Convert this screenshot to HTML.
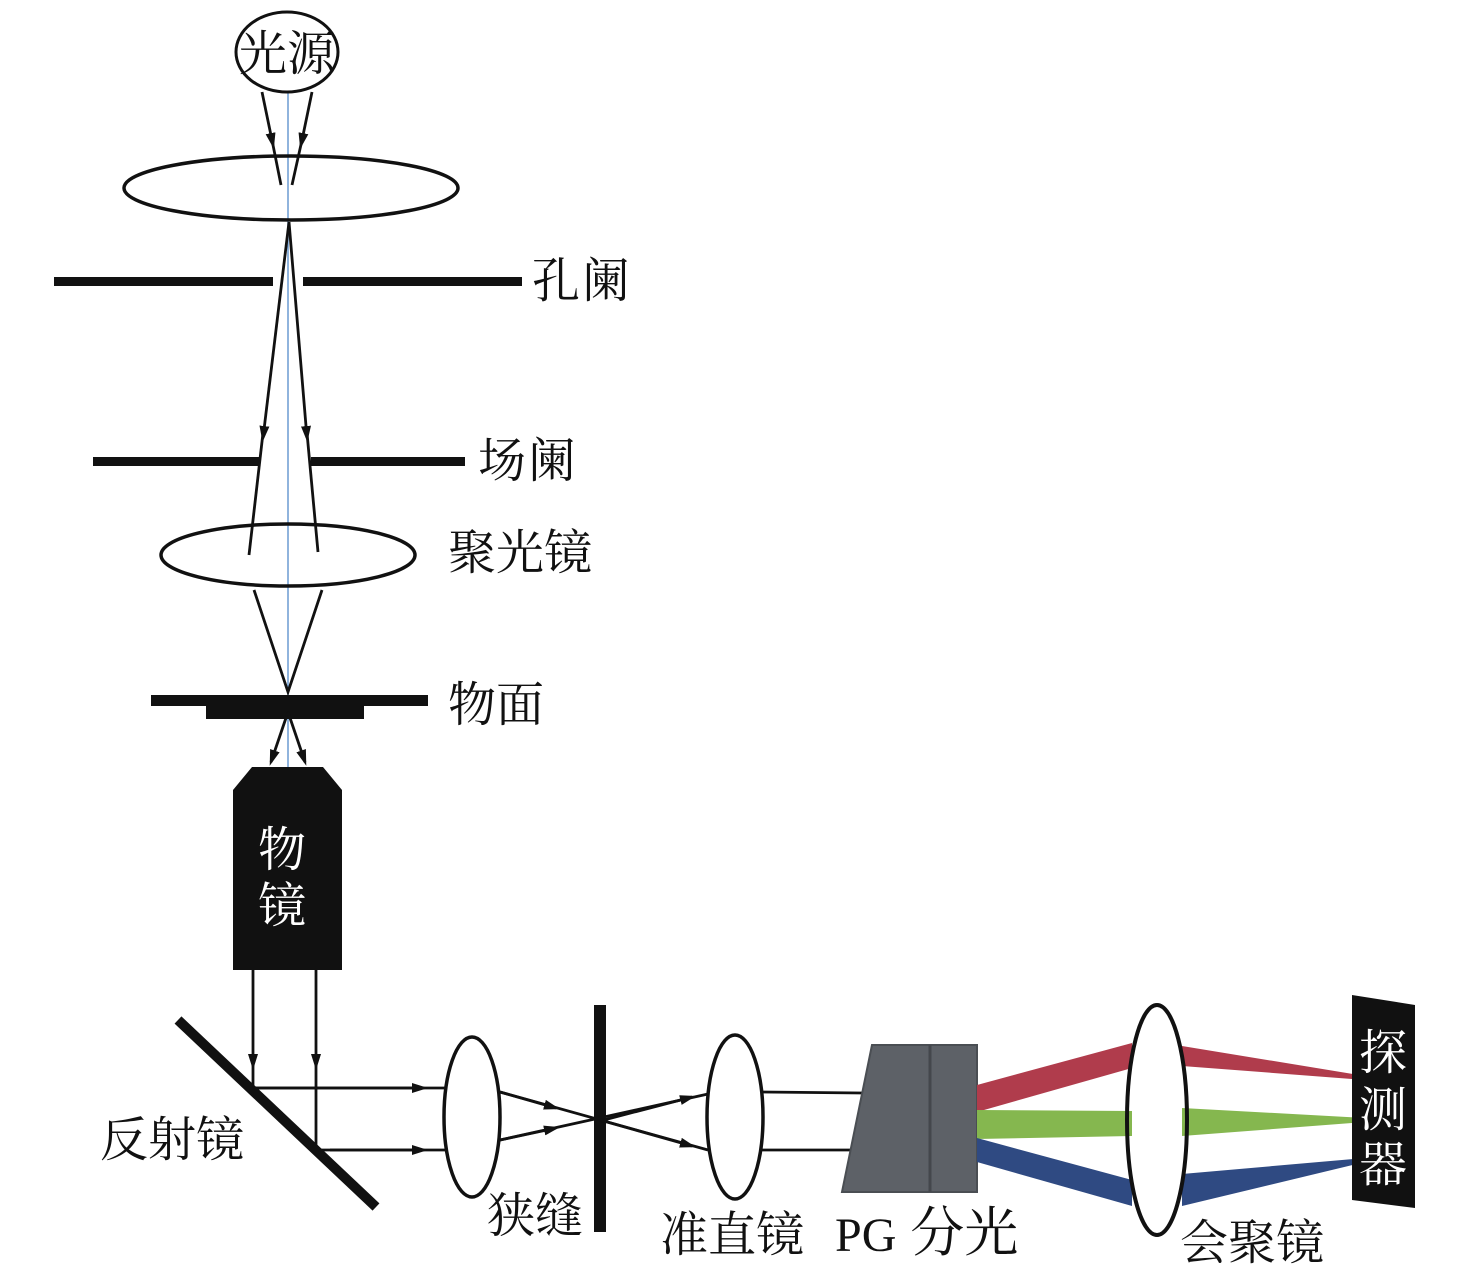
<!DOCTYPE html>
<html><head><meta charset="utf-8"><style>
html,body{margin:0;padding:0;background:#fff;}
svg{display:block;}
text{font-family:"Liberation Serif","Noto Serif CJK SC",serif;font-size:48px;fill:#111;}
</style></head><body>
<svg width="1476" height="1276" viewBox="0 0 1476 1276" xmlns="http://www.w3.org/2000/svg">
<defs>
<marker id="a" markerWidth="16" markerHeight="12" refX="12" refY="6" orient="auto" markerUnits="userSpaceOnUse" viewBox="0 0 16 12"><path d="M0,1 L16,6 L0,11 z" fill="#111"/></marker>
</defs>
<line x1="288" y1="92" x2="288" y2="770" stroke="#6b9bd2" stroke-width="1.5"/>
<ellipse cx="287" cy="52" rx="51" ry="40" fill="#fff" stroke="#111" stroke-width="3"/>
<text x="287" y="70" text-anchor="middle" font-size="46">光源</text>
<g stroke="#111" stroke-width="2.8" fill="none">
<path d="M262,92 L273,145" marker-end="url(#a)"/><path d="M272,140 L281,185"/>
<path d="M312,92 L301,145" marker-end="url(#a)"/><path d="M302,140 L292,185"/>
</g>
<ellipse cx="291" cy="188" rx="167" ry="32" fill="none" stroke="#111" stroke-width="3.5"/>
<g stroke="#111" stroke-width="2.8" fill="none">
<path d="M289,222 L263,438" marker-end="url(#a)"/><path d="M263,433 L249,555"/>
<path d="M289,222 L307,438" marker-end="url(#a)"/><path d="M307,433 L318,552"/>
</g>
<rect x="54" y="277" width="219" height="9" fill="#111"/>
<rect x="303" y="277" width="219" height="9" fill="#111"/>
<text x="532" y="297" style="letter-spacing:2px">孔阑</text>
<rect x="93" y="457" width="167" height="9" fill="#111"/>
<rect x="311" y="457" width="154" height="9" fill="#111"/>
<text x="478" y="477" style="letter-spacing:2px">场阑</text>
<ellipse cx="288" cy="555" rx="127" ry="31" fill="none" stroke="#111" stroke-width="3.5"/>
<text x="448" y="569">聚光镜</text>
<g stroke="#111" stroke-width="2.8" fill="none">
<path d="M254,590 L288,692 L322,590"/>
</g>
<rect x="151" y="695" width="277" height="11" fill="#111"/>
<rect x="206" y="704" width="158" height="15" fill="#111"/>
<text x="448" y="721">物面</text>
<g stroke="#111" stroke-width="2.8" fill="none">
<path d="M288,712 L271,762" marker-end="url(#a)"/>
<path d="M288,712 L305,762" marker-end="url(#a)"/>
</g>
<path d="M252,767 L323,767 L342,790 L342,970 L233,970 L233,790 Z" fill="#111"/>
<text x="282" y="866" text-anchor="middle" style="fill:#fff">物</text>
<text x="282" y="922" text-anchor="middle" style="fill:#fff">镜</text>
<g stroke="#111" stroke-width="2.8" fill="none">
<path d="M253,970 L253,1066" marker-end="url(#a)"/><path d="M253,1060 L253,1088"/>
<path d="M316,970 L316,1066" marker-end="url(#a)"/><path d="M316,1060 L316,1150"/>
<path d="M253,1088 L445,1088"/><path d="M253,1088 L424,1088" marker-end="url(#a)"/>
<path d="M316,1150 L445,1150"/><path d="M330,1150 L424,1150" marker-end="url(#a)"/>
</g>
<line x1="178" y1="1020" x2="376" y2="1207" stroke="#111" stroke-width="10"/>
<text x="100" y="1156">反射镜</text>
<ellipse cx="472" cy="1117" rx="28" ry="80" fill="#fff" stroke="#111" stroke-width="3.5"/>
<rect x="594" y="1005" width="12" height="227" fill="#111"/>
<g stroke="#111" stroke-width="2.8" fill="none">
<path d="M500,1092 L708,1150"/>
<path d="M500,1140 L708,1094"/>
<path d="M500,1092 L556,1108" marker-end="url(#a)"/>
<path d="M500,1140 L556,1128" marker-end="url(#a)"/>
<path d="M600,1121 L692,1097" marker-end="url(#a)"/>
<path d="M600,1120 L692,1146" marker-end="url(#a)"/>
<path d="M762,1092 L862,1093"/><path d="M762,1150 L852,1150"/>
</g>
<text x="487" y="1232">狭缝</text>
<ellipse cx="735" cy="1117" rx="28" ry="82" fill="#fff" stroke="#111" stroke-width="3.5"/>
<text x="660" y="1251">准直镜</text>
<path d="M872,1045 L977,1045 L977,1192 L842,1192 Z" fill="#5d6167" stroke="#4a4e53" stroke-width="2"/>
<line x1="930" y1="1045" x2="930" y2="1192" stroke="#44474c" stroke-width="3"/>
<text x="835" y="1251" font-size="52">PG <tspan dx="2" font-size="54">分光</tspan></text>
<path d="M977,1085 L1132,1043 L1132,1068 L977,1112 Z" fill="#b03c4c"/>
<path d="M977,1110 L1132,1111 L1132,1136 L977,1139 Z" fill="#85b74f"/>
<path d="M977,1138 L1132,1180 L1132,1206 L977,1162 Z" fill="#2f4a82"/>
<path d="M1182,1046 L1365,1076 L1365,1080 L1182,1066 Z" fill="#b03c4c"/>
<path d="M1182,1108 L1365,1118 L1365,1122 L1182,1136 Z" fill="#85b74f"/>
<path d="M1182,1174 L1365,1158 L1365,1162 L1182,1206 Z" fill="#2f4a82"/>
<ellipse cx="1157" cy="1120" rx="30" ry="115" fill="none" stroke="#111" stroke-width="4"/>
<text x="1180" y="1259">会聚镜</text>
<path d="M1352,995 L1415,1005 L1415,1208 L1352,1200 Z" fill="#111"/>
<text x="1383" y="1069" text-anchor="middle" style="fill:#fff">探</text>
<text x="1383" y="1126" text-anchor="middle" style="fill:#fff">测</text>
<text x="1383" y="1181" text-anchor="middle" style="fill:#fff">器</text>
</svg>
</body></html>
